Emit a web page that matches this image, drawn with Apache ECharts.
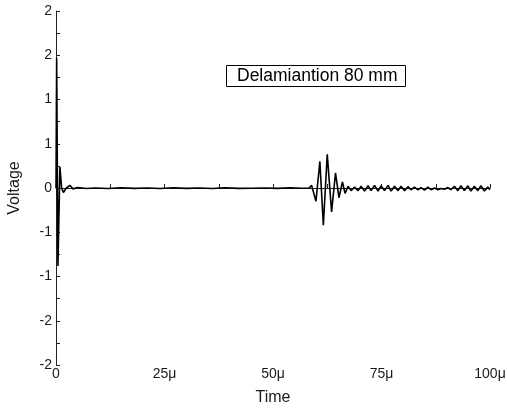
<!DOCTYPE html>
<html>
<head>
<meta charset="utf-8">
<script src="https://cdn.jsdelivr.net/npm/echarts@6/dist/echarts.min.js"></script>
<style>
html,body{margin:0;padding:0;background:#fff;}
#chart{width:507px;height:409px;}
</style>
</head>
<body>
<div id="chart"></div>
<script>
// Time in microseconds
var timeUs = [
  0, 0.15, 0.45, 0.9, 1.3, 1.7, 2.4, 3.2, 3.9, 5, 7, 9, 12, 15, 18, 21, 24, 27, 30, 33, 36, 39, 42, 45, 48, 51, 54, 56.5, 58.3,
  58.9, 59.9, 60.8, 61.6, 62.5, 63.5, 64.4, 65.2, 66.0, 66.6,
  67.3, 68.0, 68.8, 69.6, 70.3, 71.1, 71.9, 72.6, 73.4, 74.2, 74.9, 75.7, 76.5, 77.2, 78.0, 78.8, 79.5, 80.3, 81.1, 81.8,
  82.6, 83.4, 84.1, 84.9, 85.7, 86.4, 87.2, 88.0, 88.7, 89.5, 90.3, 91.0, 91.8, 92.6, 93.3, 94.1, 94.9, 95.6, 96.4, 97.2,
  97.9, 98.7, 99.5, 100
];
var voltage = [
  0, 1.47, -0.88, 0.24, 0.0, -0.05, 0.0, 0.03, -0.01, 0.005, -0.005, 0.0, -0.005, 0.003, -0.004, 0.0, -0.005, 0.002, -0.004, 0.0, -0.005, 0.003, -0.004, -0.002, 0.0, -0.004, 0.002, -0.003, 0.0,
  0.03, -0.15, 0.30, -0.42, 0.38, -0.27, 0.17, -0.11, 0.07, -0.06,
  0.02, -0.03, 0.01, -0.03, 0.02, -0.035, 0.025, -0.03, 0.03, -0.035, 0.025, -0.03, 0.03, -0.035, 0.02, -0.03, 0.02, -0.03, 0.015, -0.02,
  0.01, -0.02, 0.005, -0.025, 0.01, -0.02, 0.0, -0.02, -0.005, -0.015, 0.005, -0.02, 0.02, -0.03, 0.025, -0.03, 0.025, -0.035, 0.02, -0.03,
  0.025, -0.035, 0.01, -0.02
];
var yTickValues = [-2, -1.5, -1, -0.5, 0, 0.5, 1, 1.5, 2];
var xTickLabels = {0: '0', 25: '25μ', 50: '50μ', 75: '75μ', 100: '100μ'};
var annotation = 'Delamiantion 80 mm';

var data = timeUs.map(function (t, i) { return [t, voltage[i]]; });
var chart = echarts.init(document.getElementById('chart'));
var font = 'Liberation Sans, Arial, sans-serif';
var txt = '#1a1a1a';
chart.setOption({
  animation: false,
  backgroundColor: '#fff',
  title: {
    text: annotation,
    left: 226, top: 65,
    borderColor: '#000', borderWidth: 1,
    padding: [2, 8, 2, 11],
    textStyle: {fontFamily: font, fontSize: 17.5, fontWeight: 'normal', color: '#000', lineHeight: 18}
  },
  grid: {left: 56, right: 17, top: 11, bottom: 44, containLabel: false, outerBoundsMode: 'none'},
  xAxis: {
    type: 'value', min: 0, max: 100, interval: 25,
    name: 'Time', nameLocation: 'middle', nameGap: 25,
    nameTextStyle: {fontFamily: font, fontSize: 16, color: txt},
    axisLine: {show: true, lineStyle: {color: '#222', width: 1}},
    axisTick: {show: true, inside: true, length: 4, lineStyle: {color: '#222'}},
    minorTick: {show: true, splitNumber: 2, length: 4, lineStyle: {color: '#222'}},
    splitLine: {show: false},
    axisLabel: {fontFamily: font, fontSize: 14, color: txt, margin: 2,
      formatter: function (v) { return xTickLabels[v] !== undefined ? xTickLabels[v] : ''; }}
  },
  yAxis: {
    type: 'value', min: -2, max: 2, interval: 0.5,
    name: 'Voltage', nameLocation: 'middle', nameGap: 33,
    nameTextStyle: {fontFamily: font, fontSize: 16, color: txt},
    axisLine: {show: true, lineStyle: {color: '#222', width: 1}},
    axisTick: {show: true, inside: true, length: 4, lineStyle: {color: '#222'}},
    minorTick: {show: true, splitNumber: 2, length: 4, lineStyle: {color: '#222'}},
    splitLine: {show: false},
    axisLabel: {fontFamily: font, fontSize: 14, color: txt, margin: 4,
      formatter: function (v) { var s = v < 0 ? -1 : 1; return String(s * Math.round(Math.abs(v))); }}
  },
  series: [{
    type: 'line', data: data, showSymbol: false, symbol: 'none',
    lineStyle: {color: '#000', width: 1.6}
  }]
});
</script>
</body>
</html>
